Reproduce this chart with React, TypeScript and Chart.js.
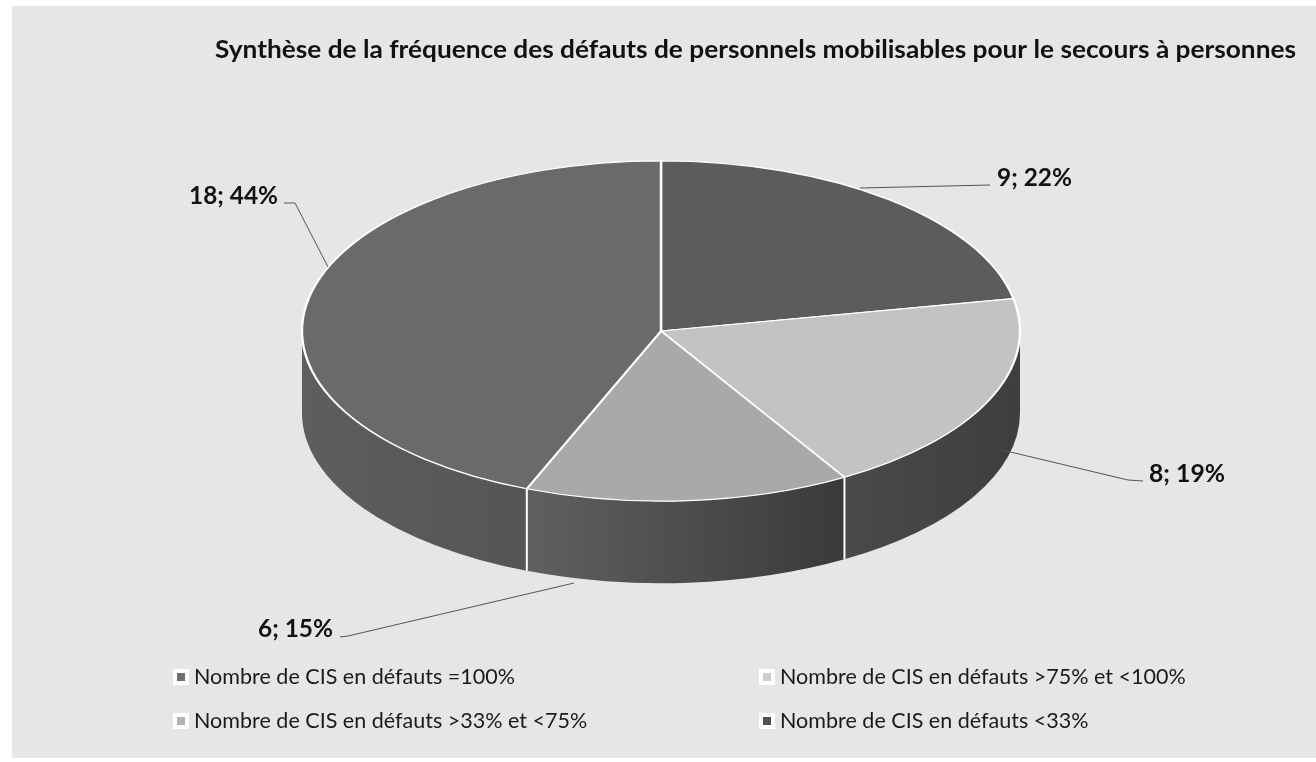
import React, { useEffect, useRef } from "react";
import { Chart, registerables } from "chart.js";

Chart.register(...registerables);

// ---- data ----
const chartTitle =
  "Synthèse de la fréquence des défauts de personnels mobilisables pour le secours à personnes";
const categories = [
  "Nombre de CIS en défauts =100%",
  "Nombre de CIS en défauts >75% et <100%",
  "Nombre de CIS en défauts >33% et <75%",
  "Nombre de CIS en défauts <33%",
];
const counts = [9, 8, 6, 18];
const percentLabels = ["22%", "19%", "15%", "44%"];

// ---- styles ----
const topColors = ["#5c5c5c", "#c3c3c3", "#a9a9a9", "#6a6a6a"];
const sideLeftColors = ["#4c4c4c", "#4a4a4a", "#606060", "#5e5e5e"];
const sideRightColors = ["#3e3e3e", "#3e3e3e", "#3a3a3a", "#555555"];
const legendColors = ["#6f6f6f", "#cdcdcd", "#b3b3b3", "#505050"];

const W = 1316;
const H = 762;
const RADIUS = 359;
const K = 0.474; // vertical squash of the pie (tilt)
const DEPTH = 82; // thickness of the pie

// label layout: text left x, baseline y, text width, leader polyline
const labelLayout = [
  { x: 997, y: 186, w: 75, line: [[860, 188], [990, 185]] },
  { x: 1149, y: 482, w: 76, line: [[1002, 450], [1128, 480], [1143, 481]] },
  { x: 258, y: 637, w: 75, line: [[574, 583], [348, 636], [340, 637]] },
  { x: 189, y: 204, w: 89, line: [[328, 267], [295, 203], [284, 203]] },
];

const legendLayout = [
  { x: 177, y: 677 },
  { x: 763, y: 677 },
  { x: 177, y: 721 },
  { x: 763, y: 721 },
];

function fitText(
  ctx: CanvasRenderingContext2D,
  text: string,
  x: number,
  y: number,
  width: number
) {
  const m = ctx.measureText(text).width;
  const s = width / m;
  ctx.save();
  ctx.translate(x, y);
  ctx.scale(s, 1);
  ctx.fillText(text, 0, 0);
  ctx.restore();
}

const pie3d = {
  id: "pie3d",
  beforeDraw(chart: any) {
    const ctx: CanvasRenderingContext2D = chart.ctx;
    ctx.save();
    ctx.fillStyle = "#ffffff";
    ctx.fillRect(0, 0, W, H);
    ctx.fillStyle = "#e6e6e6";
    ctx.fillRect(12, 6, W - 12, H - 10);
    ctx.restore();
  },
  beforeDatasetsDraw(chart: any) {
    const ctx: CanvasRenderingContext2D = chart.ctx;
    const arcs = chart.getDatasetMeta(0).data;
    if (!arcs.length) return;
    const cx = arcs[0].x;
    const cy = arcs[0].y;
    ctx.save();
    arcs.forEach((arc: any, i: number) => {
      const { x, y, startAngle, endAngle, outerRadius } = arc.getProps(
        ["x", "y", "startAngle", "endAngle", "outerRadius"],
        true
      );
      const R = outerRadius;
      const ranges = [
        [0, Math.PI],
        [2 * Math.PI, 3 * Math.PI],
        [-2 * Math.PI, -Math.PI],
      ];
      for (const [lo, hi] of ranges) {
        const a0 = Math.max(startAngle, lo);
        const a1 = Math.min(endAngle, hi);
        if (a1 <= a0) continue;
        const xa = x + R * Math.cos(a0);
        const xb = x + R * Math.cos(a1);
        const g = ctx.createLinearGradient(Math.min(xa, xb), 0, Math.max(xa, xb), 0);
        g.addColorStop(0, sideLeftColors[i]);
        g.addColorStop(1, sideRightColors[i]);
        ctx.beginPath();
        ctx.ellipse(x, y, R, R * K, 0, a0, a1, false);
        ctx.ellipse(x, y + DEPTH, R, R * K, 0, a1, a0, true);
        ctx.closePath();
        ctx.fillStyle = g;
        ctx.fill();
      }
    });
    // white seams on the side wall at slice boundaries
    ctx.strokeStyle = "#ffffff";
    ctx.lineWidth = 2;
    arcs.forEach((arc: any) => {
      const { x, y, startAngle, outerRadius } = arc.getProps(
        ["x", "y", "startAngle", "outerRadius"],
        true
      );
      const s = Math.sin(startAngle);
      if (s > 0.02) {
        const px = x + outerRadius * Math.cos(startAngle);
        const py = y + outerRadius * K * s;
        ctx.beginPath();
        ctx.moveTo(px, py);
        ctx.lineTo(px, py + DEPTH);
        ctx.stroke();
      }
    });
    ctx.restore();
    // squash the top face
    ctx.save();
    ctx.translate(cx, cy);
    ctx.scale(1, K);
    ctx.translate(-cx, -cy);
  },
  afterDatasetsDraw(chart: any) {
    chart.ctx.restore();
  },
  afterDraw(chart: any) {
    const ctx: CanvasRenderingContext2D = chart.ctx;
    ctx.save();
    // title
    ctx.fillStyle = "#111111";
    ctx.textBaseline = "alphabetic";
    ctx.font = "bold 24px Lato";
    fitText(ctx, chartTitle, 215, 58, 1081);

    // data labels with leader lines
    labelLayout.forEach((l, i) => {
      ctx.strokeStyle = "#555555";
      ctx.lineWidth = 1;
      ctx.beginPath();
      l.line.forEach(([px, py], j) => (j === 0 ? ctx.moveTo(px, py) : ctx.lineTo(px, py)));
      ctx.stroke();
      ctx.fillStyle = "#111111";
      ctx.font = "bold 25px Lato";
      const txt = `${counts[i]}; ${percentLabels[i]}`;
      fitText(ctx, txt, l.x, l.y, l.w);
    });

    // legend
    ctx.font = "22px Lato";
    const ref = ctx.measureText(categories[0]).width;
    const sc = 321 / ref;
    categories.forEach((c, i) => {
      const p = legendLayout[i];
      ctx.fillStyle = "#ffffff";
      ctx.fillRect(p.x - 4, p.y - 8, 16, 16);
      ctx.fillStyle = legendColors[i];
      ctx.fillRect(p.x, p.y - 4, 8, 8);
      ctx.fillStyle = "#1a1a1a";
      ctx.textBaseline = "middle";
      const w = ctx.measureText(c).width * sc;
      fitText(ctx, c, p.x + 17, p.y, w);
    });
    ctx.restore();
  },
};

export default function App() {
  const ref = useRef<HTMLCanvasElement | null>(null);
  useEffect(() => {
    let chart: Chart | null = null;
    let cancelled = false;
    const make = () => {
      if (cancelled || !ref.current) return;
      chart = new Chart(ref.current, {
        type: "pie",
        data: {
          labels: categories,
          datasets: [
            {
              data: counts,
              backgroundColor: topColors,
              borderColor: "#ffffff",
              borderWidth: 2.4,
              radius: RADIUS,
              clip: false,
              hoverOffset: 0,
            } as any,
          ],
        },
        options: {
          responsive: false,
          animation: false,
          devicePixelRatio: 1,
          events: [],
          layout: { padding: { left: 106, right: 100, top: 0, bottom: 100 } },
          plugins: {
            legend: { display: false },
            title: { display: false },
            tooltip: { enabled: false },
          },
        },
        plugins: [pie3d as any],
      });
    };
    Promise.all([
      document.fonts.load("bold 24px Lato"),
      document.fonts.load("22px Lato"),
    ])
      .catch(() => null)
      .then(make);
    return () => {
      cancelled = true;
      if (chart) chart.destroy();
    };
  }, []);
  return (
    <canvas
      ref={ref}
      width={W}
      height={H}
      style={{ position: "fixed", left: 0, top: 0, width: W, height: H }}
    />
  );
}
